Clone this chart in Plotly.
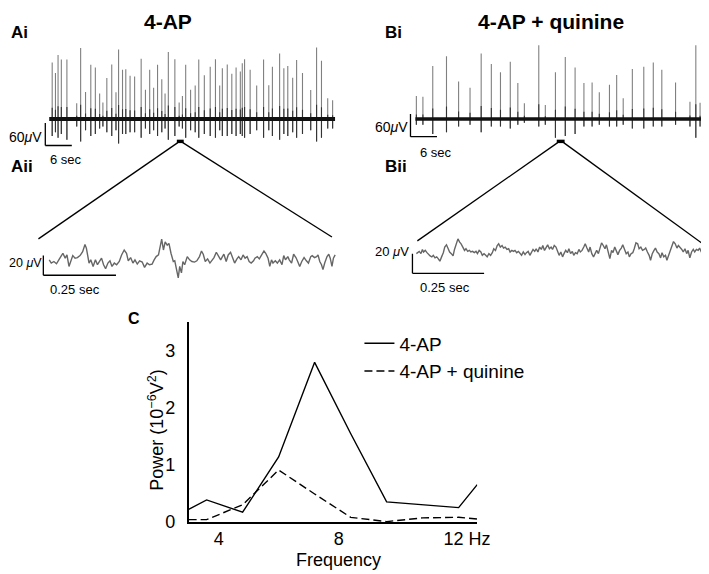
import plotly.graph_objects as go

# ---------------- data ----------------
# Panel Ai: 4-AP, long recording (spike times in s, peak up / down in microvolts)
ai_t = [0.67, 1.41, 2.0, 2.74, 4.0, 6.22, 7.11, 8.22, 9.41, 10.44,
        11.41, 12.15, 13.04, 14.15, 15.11, 15.70, 16.59, 17.33, 18.30, 19.33,
        20.81, 21.78, 22.74, 23.63, 24.52, 25.48, 26.22, 26.96, 28.44, 29.41,
        30.15, 30.89, 32.0, 33.04, 33.85, 35.11, 36.44, 37.63, 38.59, 39.19,
        40.30, 41.33, 42.30, 43.26, 43.70, 44.22, 45.48, 46.96, 48.52, 49.70,
        50.52, 52.15, 53.11, 54.0, 55.11, 56.0, 57.33, 59.19, 60.52, 61.63,
        63.04, 64.15]
ai_up = [150, 122, 170, 158, 158, 42, 189, 72, 144, 137,
         68, 44, 109, 145, 71, 185, 131, 132, 115, 113,
         160, 78, 131, 83, 144, 106, 68, 178, 159, 44,
         61, 144, 78, 89, 158, 116, 139, 159, 89, 135,
         145, 120, 137, 126, 148, 159, 131, 89, 158, 90,
         139, 174, 135, 141, 110, 157, 122, 77, 190, 155,
         55, 50]
ai_down = [45, 35, 50, 40, 55, 20, 60, 30, 45, 40,
           25, 20, 35, 45, 30, 65, 40, 40, 35, 35,
           50, 25, 40, 30, 45, 35, 25, 55, 45, 20,
           25, 50, 30, 35, 50, 40, 45, 50, 30, 45,
           45, 40, 45, 40, 45, 50, 40, 30, 50, 30,
           45, 55, 40, 45, 35, 50, 40, 30, 60, 50,
           25, 25]
ai_duration = [0, 64.7]

# Panel Bi: 4-AP + quinine
bi_t = [0.22, 1.70, 3.93, 7.04, 9.78, 12.37, 14.89, 17.19, 19.26, 21.48,
        23.19, 24.67, 27.93, 29.41, 31.70, 33.93, 36.15, 38.15, 40.0, 41.63,
        43.93, 45.56, 47.04, 49.11, 51.70, 53.85, 55.78, 58.89, 62.15, 63.48,
        64.44]
bi_up = [61, 59, 141, 167, 100, 83, 174, 146, 124, 152,
         96, 42, 196, 37, 124, 165, 137, 96, 97, 71,
         91, 117, 55, 133, 139, 150, 131, 97, 46, 196,
         43]
bi_down = [15, 15, 40, 35, 20, 15, 35, 20, 20, 25,
           15, 10, 20, 15, 50, 45, 40, 20, 20, 15,
           20, 20, 15, 25, 25, 20, 20, 15, 20, 50,
           20]
bi_duration = [0, 65.3]

# Panel Aii: expanded 4-AP trace (ms, microvolts)
aii_t = [0, 7, 16, 25, 33, 41, 47, 55, 61, 68, 74, 81, 89, 97, 106, 115, 123, 128, 137, 143,
         151, 159, 166, 173, 180, 187, 194, 202, 209, 216, 224, 232, 241, 249, 258, 266, 272, 280, 288, 295,
         303, 311, 320, 328, 337, 345, 354, 361, 368, 376, 382, 387, 393, 399, 406, 412, 419, 427, 432, 438,
         444, 449, 455, 460, 466, 475, 483, 491,
         500, 508, 517, 524, 530, 537, 545, 553, 560, 567, 575, 582, 590, 596, 601, 609, 616, 624, 632, 638,
         646, 652, 660, 667, 674, 681, 688, 695, 703, 708, 716, 723, 731, 739, 745, 753, 759, 765, 770, 778,
         785, 793, 801, 807, 813, 821, 826, 834, 841, 849, 855, 862, 869, 877, 885, 892, 900, 905, 913, 920,
         925, 931, 937, 942, 948, 956, 962, 967, 973, 978, 984]
aii_v = [0, -3.3, -1.7, -4, 0, 3.3, 6.7, 1.7, 5, -6.7, -1.7, 4.3, 1.7, 2.3, 4.3, 8.3, 15.7, 11.7, -3.3, 0,
         -6.7, 0, -5, -1.7, 1.7, -5, -9, -3.3, -1, -6.7, -3.3, -5, -1.7, 5, 10, 6.7, -1, 2.3, -3.3, 0,
         -4.3, -1, -2.3, -7.7, -3.3, -5, -4.3, 0, 3.3, 5, 13.3, 21, 10, 18.3, 15, 16.7, 6.7, -1.7, -1, -10,
         -18.3, -6.7, -13.3, -1.7, -5, 3.3, 0, -1.7,
         -2.3, -1, 3.3, 9, 5.7, -1.7, 1, -3.3, 0, 2.3, 7.7, 3.3, 0, 3.3, 5.7, -1.7, 5, 7.7, 1.7, -3.3,
         1, 3.3, 0, 5, 1.7, 3.3, -1.7, -3.3, -1, 1.7, 3.3, 1, 5, 9, 6.7, 1.7, -6.7, 0, -3.3, -1,
         -3.3, 0, -5, 4.3, 0, 3.3, 0, -3.3, 5.7, 2.3, -1.7, -6.7, -1.7, 2.3, -1, -3.3, 3.3, 4.3, 2.3, 3.3,
         5, -1.7, -5, -10, -3.3, 3.3, 5.7, 1.7, -6.7, 1.7, 5]

# Panel Bii: expanded 4-AP + quinine trace (ms, microvolts)
bii_t = [0, 5, 10, 16, 21, 25, 31, 37, 42, 48, 54, 59, 65, 71, 76, 82, 88, 94, 99, 105,
         111, 116, 122, 128, 133, 139, 145, 151, 156, 162, 168, 173, 179, 185, 190, 196, 202, 208, 213, 219,
         225, 230, 236, 242, 247, 253, 259, 265, 270, 276, 282, 287, 293, 299, 304, 310, 316, 322, 327, 333,
         339, 344, 350, 356, 361, 367, 373, 379, 384, 390, 396, 401, 407, 413, 418, 424, 430, 436, 441, 447,
         453, 458, 464, 470, 475, 481, 487,
         492, 498, 504, 510, 515, 521, 527, 532, 538, 544, 549, 555, 561, 567, 572, 578, 584, 589, 595, 601,
         606, 612, 618, 624, 629, 635, 641, 646, 652, 658, 663, 669, 675, 681, 686, 692, 698, 703, 709, 715,
         720, 726, 732, 738, 743, 749, 755, 760, 766, 772, 777, 783, 789, 795, 800, 806, 812, 817, 823, 829,
         834, 840, 846, 852, 857, 863, 869, 874, 880, 886, 891, 897, 903, 909, 914, 920, 926, 931, 937, 943,
         948, 954, 960, 966, 971, 977, 983, 988, 994, 1000]
bii_v = [0, 1, 2.3, 0, 4.3, 1.7, 3.3, 1, -1, -2.3, -3.3, -1.7, -4.3, -3.3, -5, -7.7, -3.3, 1, 6.7, 9,
         5, 1.7, 0, -2.3, 4.3, 10, 15, 11.7, 10, 6.7, 3.3, 5, 2.3, 3.3, 1.7, 2.3, 1, 2.3, 0, 3.3,
         1.7, -1.7, 0, -1.7, -3.3, 0, -1.7, 1, 5, 3.3, 8.3, 10, 6.7, 8.3, 5.7, 6.7, 4.3, 5, 1.7, 3.3,
         2.3, 3.3, 1, 2.3, 0, -1.7, 1.7, -1, 1, 2.3, -1.7, 1.7, 4.3, 2.3, 5, 1.7, 6.7, 4.3, 8.3, 3.3,
         6.7, 9, 5, 6.7, 4.3, 8.3, 6.7,
         3.3, -1.7, 1.7, -3.3, 0, 3.3, 1, 5, 0, 2.3, -1.7, 1, 0, 4.3, 1.7, 3.3, 6.7, 10, 5.7, 1.7,
         6.7, 0, -3.3, 1, 3.3, 0, 6.7, 11, 8.3, 5, 9, 1.7, -5, 3.3, 1, 6.7, 1.7, -1, 3.3, 5.7,
         9, 4.3, 0, 1.7, -3.3, 0, 1, 5, 11, 10, 5, 6.7, 3.3, 4.3, 5.7, 1.7, -1.7, -6.7, 0, 3.3,
         5.7, 1.7, 0, -4.3, 1, -3.3, -1.7, -6.7, -1.7, 4.3, 8.3, 12.3, 10, 5.7, 8.3, 6.7, 4.3, 1.7, 5, 0,
         3.3, -4.3, 1.7, 4.3, 1.7, 4.3, 3.3, 5.7, 1.7, 1]

# Panel C: power spectra
freq = [3.0, 3.6, 4.8, 6.0, 7.2, 8.4, 9.6, 10.8, 12.0, 12.62]
power_4ap = [0.22, 0.385, 0.17, 1.14, 2.8, 1.55, 0.35, 0.30, 0.25, 0.655]
power_quinine = [0.04, 0.04, 0.30, 0.91, 0.49, 0.08, 0.005, 0.07, 0.08, 0.05]
c_tickvals = [4, 8, 12.28]
c_ticktext = ["4", "8", "12 Hz"]
c_ytickvals = [0, 1, 2, 3]

# ---------------- helpers ----------------
W, H = 709, 574
FONT = "Liberation Sans, Arial, Helvetica, sans-serif"


def fx(px):
    return px / W


def fy(py):
    return 1 - py / H


def spikes(ts, ups, downs, frac=1.0):
    xs, ys = [], []
    for t, u, d in zip(ts, ups, downs):
        xs += [t, t, None]
        ys += [-d, u * frac, None]
    return xs, ys


fig = go.Figure()

# Ai
x, y = spikes(ai_t, ai_up, ai_down)
fig.add_trace(go.Scatter(x=x, y=y, mode="lines", line=dict(color="#808080", width=1.1),
                         xaxis="x", yaxis="y", showlegend=False, hoverinfo="skip"))
x, y = spikes(ai_t, ai_up, ai_down, 0.2)
fig.add_trace(go.Scatter(x=x, y=y, mode="lines", line=dict(color="#333333", width=1.1),
                         xaxis="x", yaxis="y", showlegend=False, hoverinfo="skip"))
fig.add_trace(go.Scatter(x=ai_duration, y=[0, 0], mode="lines", line=dict(color="#111111", width=4),
                         xaxis="x", yaxis="y", showlegend=False, hoverinfo="skip"))
# Bi
x, y = spikes(bi_t, bi_up, bi_down)
fig.add_trace(go.Scatter(x=x, y=y, mode="lines", line=dict(color="#808080", width=1.1),
                         xaxis="x2", yaxis="y2", showlegend=False, hoverinfo="skip"))
x, y = spikes(bi_t, bi_up, bi_down, 0.2)
fig.add_trace(go.Scatter(x=x, y=y, mode="lines", line=dict(color="#333333", width=1.1),
                         xaxis="x2", yaxis="y2", showlegend=False, hoverinfo="skip"))
fig.add_trace(go.Scatter(x=bi_duration, y=[0, 0], mode="lines", line=dict(color="#111111", width=3.5),
                         xaxis="x2", yaxis="y2", showlegend=False, hoverinfo="skip"))
# Aii, Bii
fig.add_trace(go.Scatter(x=aii_t, y=aii_v, mode="lines", line=dict(color="#666666", width=1.4),
                         xaxis="x3", yaxis="y3", showlegend=False, hoverinfo="skip"))
fig.add_trace(go.Scatter(x=bii_t, y=bii_v, mode="lines", line=dict(color="#666666", width=1.4),
                         xaxis="x4", yaxis="y4", showlegend=False, hoverinfo="skip"))
# C
fig.add_trace(go.Scatter(x=freq, y=power_4ap, mode="lines", name="4-AP",
                         line=dict(color="black", width=1.4), xaxis="x5", yaxis="y5"))
fig.add_trace(go.Scatter(x=freq, y=power_quinine, mode="lines", name="4-AP + quinine",
                         line=dict(color="black", width=1.4, dash="8px,4px"), xaxis="x5", yaxis="y5"))

hidden = dict(visible=False, showgrid=False, zeroline=False, fixedrange=True)

shapes = []


def seg(x0, y0, x1, y1, xref, yref, width=1.3):
    shapes.append(dict(type="line", x0=x0, y0=y0, x1=x1, y1=y1, xref=xref, yref=yref,
                       line=dict(color="black", width=width)))


# scale bars (in data units of each panel)
seg(-0.889, -10.4, -0.889, -70.4, "x", "y")
seg(-0.889, -70.4, 5.111, -70.4, "x", "y")
seg(-1.111, 13.0, -1.111, -47.0, "x2", "y2")
seg(-1.111, -47.0, 4.889, -47.0, "x2", "y2")
seg(-20.3, 4.3, -20.3, -15.7, "x3", "y3")
seg(-20.3, -15.7, 229.7, -15.7, "x3", "y3")
seg(-13.7, 0, -13.7, -20, "x4", "y4")
seg(-13.7, -20, 236.3, -20, "x4", "y4")

# zoom markers and connector lines (paper coords)
for (x0, x1) in [(172, 179), (559, 567)]:
    shapes.append(dict(type="rect", x0=fx(x0), x1=fx(x1), y0=fy(137.5), y1=fy(134),
                       xref="paper", yref="paper", fillcolor="black", line=dict(width=0)))
seg(fx(173), fy(137), fx(31), fy(235), "paper", "paper")
seg(fx(178), fy(137), fx(330), fy(233), "paper", "paper")
seg(fx(560), fy(137), fx(417), fy(237), "paper", "paper")
seg(fx(566), fy(137), fx(712), fy(243), "paper", "paper")

annotations = []


def ann(text, px, py, size, bold=False, xanchor="center", angle=0):
    if bold:
        text = "<b>" + text + "</b>"
    annotations.append(dict(text=text, x=fx(px), y=fy(py), xref="paper", yref="paper",
                            xanchor=xanchor, yanchor="middle", showarrow=False, textangle=angle,
                            borderpad=0,
                            font=dict(family=FONT, size=size, color="black")))


ann("4-AP", 163, 14, 21, True)
ann("4-AP + quinine", 553, 14, 21, True)
ann("Ai", 2, 25, 17, True, "left")
ann("Bi", 383, 25, 17, True, "left")
ann("Aii", 2, 161, 17, True, "left")
ann("Bii", 383, 161, 17, True, "left")
ann("C", 121, 316, 16, True, "left")
ann("60<i>μ</i>V", 36, 131, 14, False, "right")
ann("6 sec", 42, 154, 13, False, "left")
ann("60<i>μ</i>V", 408, 121, 14, False, "right")
ann("6 sec", 419, 147, 13, False, "left")
ann("20 <i>μ</i>V", 36, 260, 12.5, False, "right")
ann("0.25 sec", 42, 286, 13, False, "left")
ann("20 <i>μ</i>V", 410, 248, 13, False, "right")
ann("0.25 sec", 419, 284, 13, False, "left")
ann("Power (10<sup>−6</sup>V<sup>2</sup>)", 151, 430, 18, False, "center", -90)
ann("Frequency", 337, 562, 18)

fig.update_layout(
    width=W, height=H, autosize=False,
    margin=dict(l=0, r=0, t=0, b=0),
    paper_bgcolor="white", plot_bgcolor="rgba(0,0,0,0)",
    font=dict(family=FONT, color="black"),
    xaxis=dict(domain=[fx(36), fx(335)], range=[-1.333, 65.11], anchor="y", **hidden),
    yaxis=dict(domain=[fy(143.6), fy(36.4)], range=[-80, 200], anchor="x", **hidden),
    xaxis2=dict(domain=[fx(405), fx(709)], range=[-2.222, 65.33], anchor="y2", **hidden),
    yaxis2=dict(domain=[fy(143.6), fy(36.4)], range=[-80, 200], anchor="x2", **hidden),
    xaxis3=dict(domain=[fx(32), fx(336)], range=[-33.78, 993.2], anchor="y3", **hidden),
    yaxis3=dict(domain=[fy(282), fy(230)], range=[-25.7, 26.3], anchor="x3", **hidden),
    xaxis4=dict(domain=[fx(405), fx(709)], range=[-37.67, 1003.4], anchor="y4", **hidden),
    yaxis4=dict(domain=[fy(282), fy(222)], range=[-32, 28], anchor="x4", **hidden),
    xaxis5=dict(domain=[fx(184), fx(478)], range=[3.0, 12.62], anchor="y5",
                showline=True, linecolor="black", linewidth=1.5, ticks="", showgrid=False,
                zeroline=False, tickvals=c_tickvals, ticktext=c_ticktext,
                tickfont=dict(size=18, family=FONT, color="black"), fixedrange=True),
    yaxis5=dict(domain=[fy(523), fy(320)], range=[0, 3.5], anchor="x5",
                showline=True, linecolor="black", linewidth=1.5,
                ticks="outside", ticklen=8, tickcolor="rgba(0,0,0,0)", showgrid=False,
                zeroline=False, tickvals=c_ytickvals,
                tickfont=dict(size=18, family=FONT, color="black"), fixedrange=True),
    legend=dict(x=fx(358), y=fy(322), xanchor="left", yanchor="top",
                font=dict(size=19, family=FONT, color="black"), bgcolor="rgba(0,0,0,0)",
                itemwidth=30, tracegroupgap=0),
    shapes=shapes, annotations=annotations,
)

fig.write_html("out.html")
